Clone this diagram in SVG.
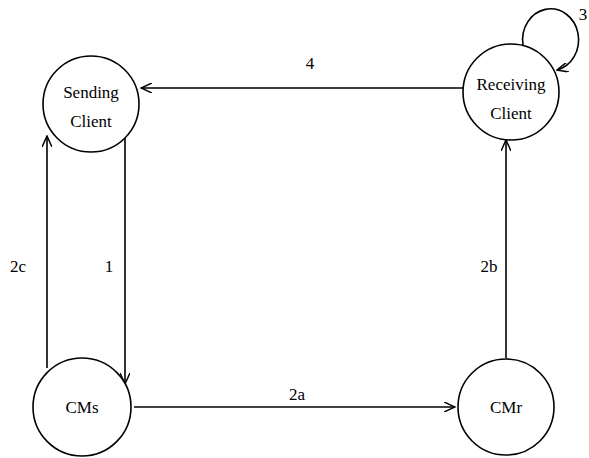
<svg xmlns="http://www.w3.org/2000/svg" width="589" height="458" viewBox="0 0 589 458">
<style>
.n{fill:#fff;stroke:#000;stroke-width:1.6}
.e{fill:none;stroke:#000;stroke-width:1.6}
.t{font-family:'Liberation Serif','Times New Roman',serif;font-size:17px;fill:#000;text-anchor:middle}
</style>
<defs>
<marker id="a" viewBox="0 0 12 10" refX="11" refY="5" markerWidth="12" markerHeight="10" markerUnits="userSpaceOnUse" orient="auto">
<path d="M0,0 L11,5 L0,10" fill="none" stroke="#000" stroke-width="1.5"/>
</marker>
</defs>
<rect width="589" height="458" fill="#fff"/>
<g id="connectors">
<path class="e" d="M47,368 V136" marker-end="url(#a)"/>
<path class="e" d="M125,128 V384" marker-end="url(#a)"/>
<path class="e" d="M134,407 H455" marker-end="url(#a)"/>
<path class="e" d="M506,358 V140" marker-end="url(#a)"/>
<path class="e" d="M463,88 H141" marker-end="url(#a)"/>
<path class="e" d="M523,45 A28,31 0 1 1 557,70" marker-end="url(#a)"/>
<text class="t" x="310" y="69">4</text>
<text class="t" x="18" y="272">2c</text>
<text class="t" x="109" y="272">1</text>
<text class="t" x="489" y="272">2b</text>
<text class="t" x="297" y="400">2a</text>
<text class="t" x="583" y="20">3</text>
</g>
<g id="sending"><circle class="n" cx="91" cy="104" r="48"/><text class="t" x="91" y="98">Sending</text><text class="t" x="91" y="127">Client</text></g>
<g id="receiving"><circle class="n" cx="511" cy="92" r="48"/><text class="t" x="511" y="90">Receiving</text><text class="t" x="511" y="119">Client</text></g>
<g id="cms"><circle class="n" cx="82" cy="407" r="49"/><text class="t" x="82" y="413">CMs</text></g>
<g id="cmr"><circle class="n" cx="506" cy="407" r="48"/><text class="t" x="506" y="413">CMr</text></g>
</svg>
